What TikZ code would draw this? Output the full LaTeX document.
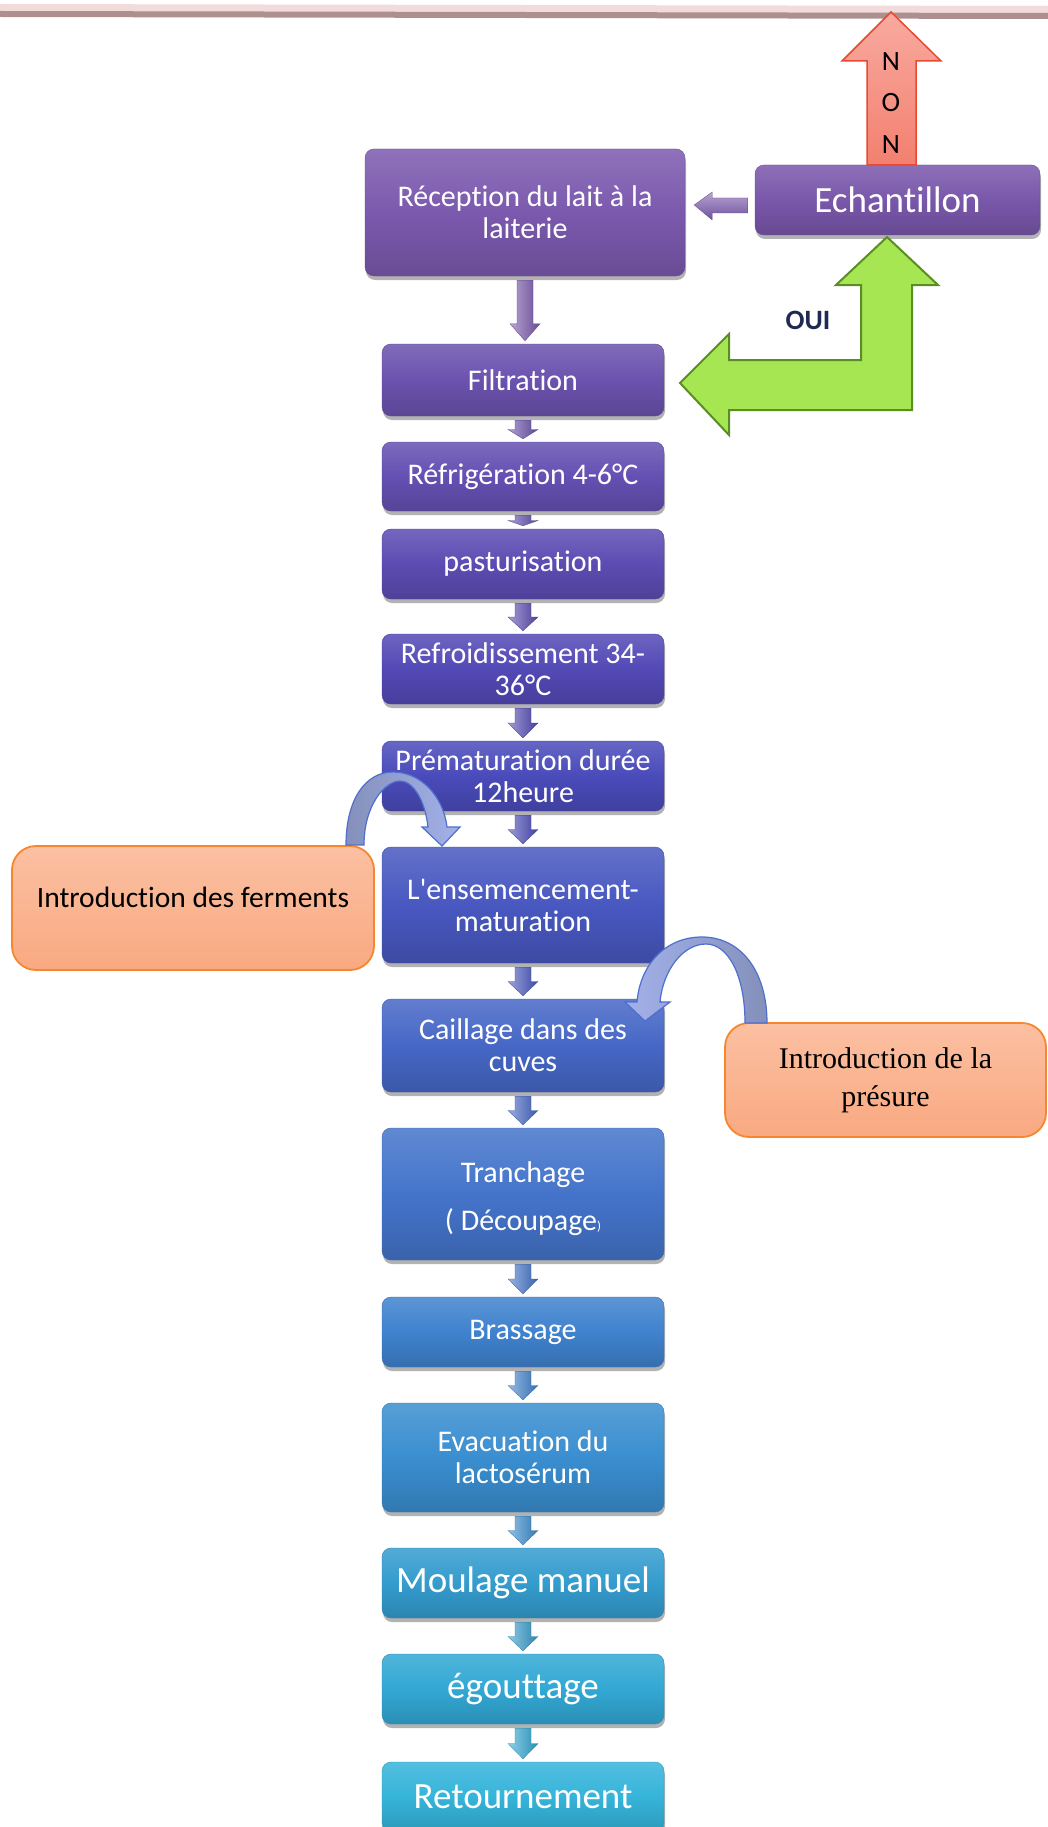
\documentclass[tikz,border=0pt]{standalone}
\usepackage{fontspec}
\setmainfont{Carlito}[Ligatures={CommonOff,TeXOff}]
\newfontfamily\timesf{Liberation Serif}
\usetikzlibrary{shadows,calc}
\definecolor{cRecep}{HTML}{7B59AE}
\definecolor{cEchant}{HTML}{7957AB}
\definecolor{cFilt}{HTML}{6B52AE}
\definecolor{cRefrig}{HTML}{6450B2}
\definecolor{cPast}{HTML}{5C4CB3}
\definecolor{cRefroid}{HTML}{5349B6}
\definecolor{cPremat}{HTML}{4A4BBA}
\definecolor{cEnsem}{HTML}{4858C0}
\definecolor{cCaill}{HTML}{4667C6}
\definecolor{cTranch}{HTML}{4474CA}
\definecolor{cBrass}{HTML}{3F82CE}
\definecolor{cEvac}{HTML}{3A8ED0}
\definecolor{cMoul}{HTML}{349CCE}
\definecolor{cEgout}{HTML}{32A8D4}
\definecolor{cRetour}{HTML}{35B4DA}
\definecolor{cBarLight}{HTML}{F2DCDB}
\definecolor{cBarDark}{HTML}{AD8F90}
\definecolor{cGreen}{HTML}{A6E652}
\definecolor{cGreenLine}{HTML}{5A8E22}
\definecolor{cRedTop}{HTML}{F9AAA0}
\definecolor{cRedBot}{HTML}{F2806F}
\definecolor{cRedLine}{HTML}{E8492F}
\definecolor{cOrangeTop}{HTML}{FBC0A2}
\definecolor{cOrangeBot}{HTML}{F9A981}
\definecolor{cOrangeLine}{HTML}{F7862E}
\definecolor{cNavy}{HTML}{1F2A52}
\definecolor{cCurveDark}{HTML}{8490BA}
\definecolor{cCurveLight}{HTML}{A3B1EA}
\definecolor{cCurveLine}{HTML}{4F6FCF}
\newcommand\dnarrow[3]{%
  \path[left color=#3!55!white, right color=#3!85!black, draw=#3!80!black, line width=0.3pt]
  let \p1=($(#1.south)+(0,4)$), \p2=($(#2.north)+(0,-3)$),
      \n1={veclen(\x1-\x2,\y1-\y2)}, \n2={min(17,0.5*\n1)} in
  (\x1-8pt,\y1) -- (\x1+8pt,\y1) -- (\x1+8pt,\y2+\n2*1pt) -- (\x1+15pt,\y2+\n2*1pt)
  -- (\x1,\y2) -- (\x1-15pt,\y2+\n2*1pt) -- (\x1-8pt,\y2+\n2*1pt) -- cycle;}
\begin{document}
\begin{tikzpicture}[x=1pt,y=-1pt,
  stepbox/.style={rounded corners=9pt, inner sep=0pt, align=center, text=white,
    minimum width=282pt, top color=#1!85!white, bottom color=#1!85!black, middle color=#1,
    draw=#1!85!black, line width=0.4pt,
    drop shadow={shadow xshift=1pt, shadow yshift=-4pt, opacity=0.3, fill=black},
    font=\fontsize{30}{32}\selectfont},
  bigtext/.style={font=\fontsize{37}{40}\selectfont},
  sidebox/.style={rounded corners=24pt, inner sep=0pt, align=center, text=black,
    top color=cOrangeTop, bottom color=cOrangeBot, draw=cOrangeLine, line width=1.8pt},
  curvearrow/.style={left color=cCurveDark, right color=cCurveLight, draw=cCurveLine, line width=1.2pt}
]
\useasboundingbox (0,0) rectangle (1048,1827);
\fill[white] (0,0) rectangle (1048,1827);
% top bar
\fill[cBarLight] (0,4) -- (1048,6) -- (1048,14) -- (0,12) -- cycle;
\fill[cBarDark] (0,11) -- (1048,13) -- (1048,19) -- (0,17) -- cycle;

% boxes
\node[stepbox=cRecep, minimum width=320pt, minimum height=127pt] (recep) at (525,212.5) {R\'eception du lait \`a la\\laiterie};
\node[stepbox=cEchant, bigtext, minimum width=285pt, minimum height=70pt] (echant) at (897.5,200) {Echantillon};
\node[stepbox=cFilt, minimum height=72pt] (filt) at (523,380) {Filtration};
\node[stepbox=cRefrig, minimum height=69pt] (refrig) at (523,476.5) {R\'efrig\'eration 4-6°C};
\node[stepbox=cPast, minimum height=70pt] (past) at (523,564) {pasturisation};
\node[stepbox=cRefroid, minimum height=70pt] (refroid) at (523,669) {Refroidissement 34-\\36°C};
\node[stepbox=cPremat, minimum height=70pt] (premat) at (523,776) {Pr\'ematuration dur\'ee\\12heure};
\node[stepbox=cEnsem, minimum height=116pt] (ensem) at (523,905) {L'ensemencement-\\maturation};
\node[stepbox=cCaill, minimum height=93pt] (caill) at (523,1045.5) {Caillage dans des\\cuves};
\node[stepbox=cTranch, minimum height=132pt] (tranch) at (523,1194) {\raisebox{-5pt}[\height][\depth]{Tranchage}\\[16pt]\raisebox{-5pt}[\height][\depth]{( D\'ecoupage{\fontsize{13}{15}\selectfont)}}};
\node[stepbox=cBrass, minimum height=70pt] (brass) at (523,1332) {Brassage};
\node[stepbox=cEvac, minimum height=109pt] (evac) at (523,1457.5) {Evacuation du\\lactos\'erum};
\node[stepbox=cMoul, bigtext, minimum height=70pt] (moul) at (523,1583) {Moulage manuel};
\node[stepbox=cEgout, bigtext, minimum height=70pt] (egout) at (523,1689) {\'egouttage};
\node[stepbox=cRetour, bigtext, minimum height=70pt] (retour) at (523,1797) {Retournement};

% side boxes
\node[sidebox, minimum width=362pt, minimum height=124pt, font=\fontsize{29.5}{32}\selectfont] (ferm) at (193,908) {\raisebox{22pt}{Introduction des ferments}};
\node[sidebox, minimum width=321pt, minimum height=114pt, font=\timesf\fontsize{30}{38}\selectfont] (pres) at (885.5,1080) {Introduction de la\\pr\'esure};

% down arrows
\dnarrow{recep}{filt}{cRecep}
\dnarrow{filt}{refrig}{cFilt}
\dnarrow{refrig}{past}{cRefrig}
\dnarrow{past}{refroid}{cPast}
\dnarrow{refroid}{premat}{cRefroid}
\dnarrow{premat}{ensem}{cPremat}
\dnarrow{ensem}{caill}{cEnsem}
\dnarrow{caill}{tranch}{cCaill}
\dnarrow{tranch}{brass}{cTranch}
\dnarrow{brass}{evac}{cBrass}
\dnarrow{evac}{moul}{cEvac}
\dnarrow{moul}{egout}{cMoul}
\dnarrow{egout}{retour}{cEgout}

% left arrow echantillon -> reception
\path[top color=cRecep!55!white, bottom color=cRecep!90!black, draw=cRecep!80!black, line width=0.3pt]
  let \p1=(echant.west), \p2=(recep.east) in
  (\x2+9pt,\y1-5pt) -- (\x2+27pt,\y1+8pt) -- (\x2+27pt,\y1+2pt) -- (\x1-7pt,\y1+2pt)
  -- (\x1-7pt,\y1-13pt) -- (\x2+27pt,\y1-13pt) -- (\x2+27pt,\y1-20pt) -- cycle;

% red NON arrow
\path[top color=cRedTop, bottom color=cRedBot, draw=cRedLine, line width=1.5pt]
  (891,12) -- (941,61) -- (916,61) -- (916,165) -- (867,165) -- (867,61) -- (842,61) -- cycle;
\node[font=\fontsize{28}{30}\selectfont] (n1) at (891,62) {N};
\node[font=\fontsize{28}{30}\selectfont] (o1) at (891,103) {O};
\node[font=\fontsize{28}{30}\selectfont] (n2) at (891,145) {N};

% green OUI arrow
\path[fill=cGreen, draw=cGreenLine, line width=2pt]
  (680,383) -- (729,334) -- (729,360) -- (861,360) -- (861,285) -- (836,285) -- (887,237)
  -- (938,285) -- (912,285) -- (912,410) -- (729,410) -- (729,435) -- cycle;
\node[font=\bfseries\fontsize{28}{30}\selectfont, text=cNavy] (oui) at (808,320) {OUI};

% curved arrows
\path[curvearrow]
  (346,845) .. controls (346,800) and (365,772) .. (393,772)
  .. controls (420,772) and (443,795) .. (447,827) -- (460,827) -- (442,846) -- (422,827) -- (428,827)
  .. controls (425,800) and (413,781) .. (400,781)
  .. controls (385,781) and (364,805) .. (364,845) -- cycle;
\path[curvearrow, left color=cCurveLight, right color=cCurveDark]
  (767,1023) .. controls (767,970) and (740,937) .. (702,937)
  .. controls (665,937) and (640,965) .. (637,1002) -- (625,1002) -- (645,1021) -- (670,1002) -- (660,1002)
  .. controls (663,970) and (683,944) .. (706,944)
  .. controls (728,944) and (745,975) .. (745,1023) -- cycle;
\end{tikzpicture}
\end{document}
